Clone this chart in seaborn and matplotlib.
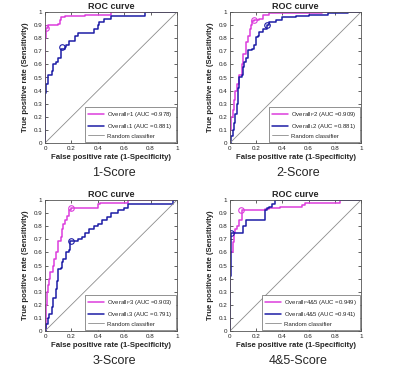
import matplotlib
matplotlib.use("Agg")
import matplotlib.pyplot as plt
import seaborn as sns
import pandas as pd

sns.set_theme(style="white")
plt.rcParams['font.family'] = ['Liberation Sans', 'DejaVu Sans']
plt.rcParams['mathtext.fontset'] = 'custom'
plt.rcParams['mathtext.rm'] = 'Liberation Sans'
plt.rcParams['mathtext.it'] = 'Liberation Sans'

# ---- data: (fpr, tpr) step corners ----
p1_fpr = [0, 0, 0.005, 0.01, 0.02, 0.10, 0.11, 0.12, 0.15, 0.30, 0.50, 1.0]
p1_tpr = [0, 0.80, 0.86, 0.88, 0.90, 0.91, 0.94, 0.96, 0.97, 0.98, 1.00, 1.0]
l1_fpr = [0, 0, 0.005, 0.02, 0.05, 0.06, 0.08, 0.10, 0.12, 0.15, 0.16, 0.18, 0.23, 0.25, 0.37, 0.40, 0.41, 0.45, 0.50, 0.76, 1.0]
l1_tpr = [0, 0.38, 0.45, 0.52, 0.55, 0.60, 0.62, 0.65, 0.72, 0.73, 0.75, 0.78, 0.82, 0.84, 0.87, 0.90, 0.92, 0.95, 0.97, 1.00, 1.0]

p2_fpr = [0, 0, 0.005, 0.02, 0.03, 0.04, 0.05, 0.07, 0.09, 0.10, 0.12, 0.14, 0.15, 0.16, 0.17, 0.18, 0.22, 0.25, 0.30, 0.70, 1.0]
p2_tpr = [0, 0.10, 0.20, 0.25, 0.33, 0.40, 0.45, 0.52, 0.60, 0.68, 0.77, 0.82, 0.87, 0.90, 0.93, 0.94, 0.95, 0.98, 0.99, 1.00, 1.0]
l2_fpr = [0, 0.01, 0.02, 0.03, 0.04, 0.05, 0.06, 0.07, 0.09, 0.10, 0.11, 0.12, 0.14, 0.17, 0.18, 0.20, 0.21, 0.22, 0.25, 0.28, 0.30, 0.35, 0.40, 0.50, 0.60, 0.75, 0.90, 1.0]
l2_tpr = [0, 0.05, 0.10, 0.15, 0.22, 0.30, 0.42, 0.50, 0.52, 0.58, 0.62, 0.65, 0.71, 0.72, 0.75, 0.81, 0.82, 0.85, 0.87, 0.90, 0.92, 0.94, 0.96, 0.97, 0.98, 0.99, 1.00, 1.0]

p3_fpr = [0, 0.005, 0.01, 0.015, 0.02, 0.03, 0.04, 0.06, 0.07, 0.08, 0.10, 0.12, 0.13, 0.14, 0.15, 0.17, 0.18, 0.20, 0.40, 0.42, 0.63, 1.0]
p3_tpr = [0, 0.10, 0.20, 0.30, 0.35, 0.40, 0.45, 0.50, 0.55, 0.60, 0.69, 0.72, 0.78, 0.82, 0.85, 0.88, 0.92, 0.94, 0.97, 0.98, 1.00, 1.0]
l3_fpr = [0, 0.005, 0.02, 0.03, 0.05, 0.06, 0.08, 0.09, 0.10, 0.12, 0.13, 0.14, 0.16, 0.18, 0.19, 0.25, 0.28, 0.30, 0.33, 0.37, 0.40, 0.43, 0.47, 0.50, 0.55, 0.60, 0.63, 0.97, 1.0]
l3_tpr = [0, 0.05, 0.10, 0.13, 0.18, 0.25, 0.32, 0.38, 0.47, 0.48, 0.53, 0.55, 0.60, 0.62, 0.69, 0.70, 0.72, 0.75, 0.78, 0.80, 0.82, 0.85, 0.87, 0.90, 0.92, 0.94, 0.97, 1.00, 1.0]

p4_fpr = [0, 0, 0.02, 0.03, 0.04, 0.05, 0.07, 0.09, 0.27, 0.30, 0.38, 0.55, 0.57, 0.84, 1.0]
p4_tpr = [0, 0.60, 0.68, 0.75, 0.78, 0.80, 0.85, 0.92, 0.93, 0.94, 0.95, 0.96, 0.98, 1.00, 1.0]
l4_fpr = [0, 0, 0.005, 0.01, 0.10, 0.12, 0.27, 0.28, 0.30, 0.32, 0.34, 1.0]
l4_tpr = [0, 0.42, 0.72, 0.75, 0.80, 0.85, 0.92, 0.94, 0.95, 0.97, 1.00, 1.0]

# operating points (circles)
p_ops = [(0.01, 0.88), (0.18, 0.94), (0.20, 0.94), (0.087, 0.92)]
l_ops = [(0.13, 0.735), (0.285, 0.90), (0.195, 0.69), (0.01, 0.75)]

p_auc = ["0.978", "0.909", "0.903", "0.949"]
l_auc = ["0.881", "0.881", "0.791", "0.941"]
score_names = ["1", "2", "3", "4&5"]
subtitles = ["1-Score", "2-Score", "3-Score", "4&5-Score"]

panels = [(p1_fpr, p1_tpr, l1_fpr, l1_tpr), (p2_fpr, p2_tpr, l2_fpr, l2_tpr),
          (p3_fpr, p3_tpr, l3_fpr, l3_tpr), (p4_fpr, p4_tpr, l4_fpr, l4_tpr)]

MAG = '#dc3ddc'
BLU = '#1c1ca6'

W, H = 400, 376
fig = plt.figure(figsize=(W / 100, H / 100), dpi=100)
fig.patch.set_facecolor('white')

boxes = [(45, 12, 177, 143), (230, 12, 361, 143), (45, 200, 177, 331), (230, 200, 361, 331)]

for i, (pf, pt, lf, lt) in enumerate(panels):
    x0, y0, x1, y1 = boxes[i]
    ax = fig.add_axes([x0 / W, 1 - y1 / H, (x1 - x0) / W, (y1 - y0) / H])
    dfp = pd.DataFrame({'fpr': pf, 'tpr': pt})
    dfl = pd.DataFrame({'fpr': lf, 'tpr': lt})
    sns.lineplot(data=dfp, x='fpr', y='tpr', ax=ax, color=MAG, lw=1.1, estimator=None,
                 drawstyle='steps-post',
                 label=r"Overall$_{P}$" + score_names[i] + " (AUC =" + p_auc[i] + ")")
    sns.lineplot(data=dfl, x='fpr', y='tpr', ax=ax, color=BLU, lw=1.1, estimator=None,
                 drawstyle='steps-post',
                 label=r"Overall$_{L}$" + score_names[i] + " (AUC =" + l_auc[i] + ")")
    sns.lineplot(x=[0, 1], y=[0, 1], ax=ax, color='#8c8c8c', lw=0.6, label="Random classifier")
    ax.plot([p_ops[i][0]], [p_ops[i][1]], 'o', mfc='none', mec=MAG, ms=4, mew=0.8)
    ax.plot([l_ops[i][0]], [l_ops[i][1]], 'o', mfc='none', mec=BLU, ms=4, mew=0.8)

    ax.set_xlim(0, 1)
    ax.set_ylim(0, 1)
    ax.set_xticks([0, 0.2, 0.4, 0.6, 0.8, 1])
    ax.set_xticklabels(["0", "0.2", "0.4", "0.6", "0.8", "1"])
    ax.set_yticks([0, 0.1, 0.2, 0.3, 0.4, 0.5, 0.6, 0.7, 0.8, 0.9, 1])
    ax.set_yticklabels(["0", "0.1", "0.2", "0.3", "0.4", "0.5", "0.6", "0.7", "0.8", "0.9", "1"])
    ax.tick_params(direction='in', length=2, width=0.5, labelsize=4.5, pad=2,
                   top=True, right=True, bottom=True, left=True, colors='#222222')
    for s in ax.spines.values():
        s.set_linewidth(0.6)
        s.set_color('#555555')
    ax.set_title("ROC curve", fontsize=6.5, fontweight='bold', pad=2.5)
    ax.set_xlabel("False positive rate (1-Specificity)", fontsize=5.6, fontweight='bold', labelpad=2)
    ax.set_ylabel("True positive rate (Sensitivity)", fontsize=5.6, fontweight='bold', labelpad=3)
    leg = ax.legend(loc='lower right', fontsize=4.3, frameon=True, fancybox=False,
                    edgecolor='#666666', framealpha=1, borderaxespad=0.25,
                    handlelength=2.6, handletextpad=0.5, labelspacing=0.45, borderpad=0.5)
    leg.get_frame().set_linewidth(0.5)

    fig.text(((x0 + x1) / 2 + 3) / W, 1 - (y1 + 30) / H, subtitles[i], fontsize=9,
             ha='center', va='center')

fig.savefig("out.png", dpi=100, facecolor='white')
